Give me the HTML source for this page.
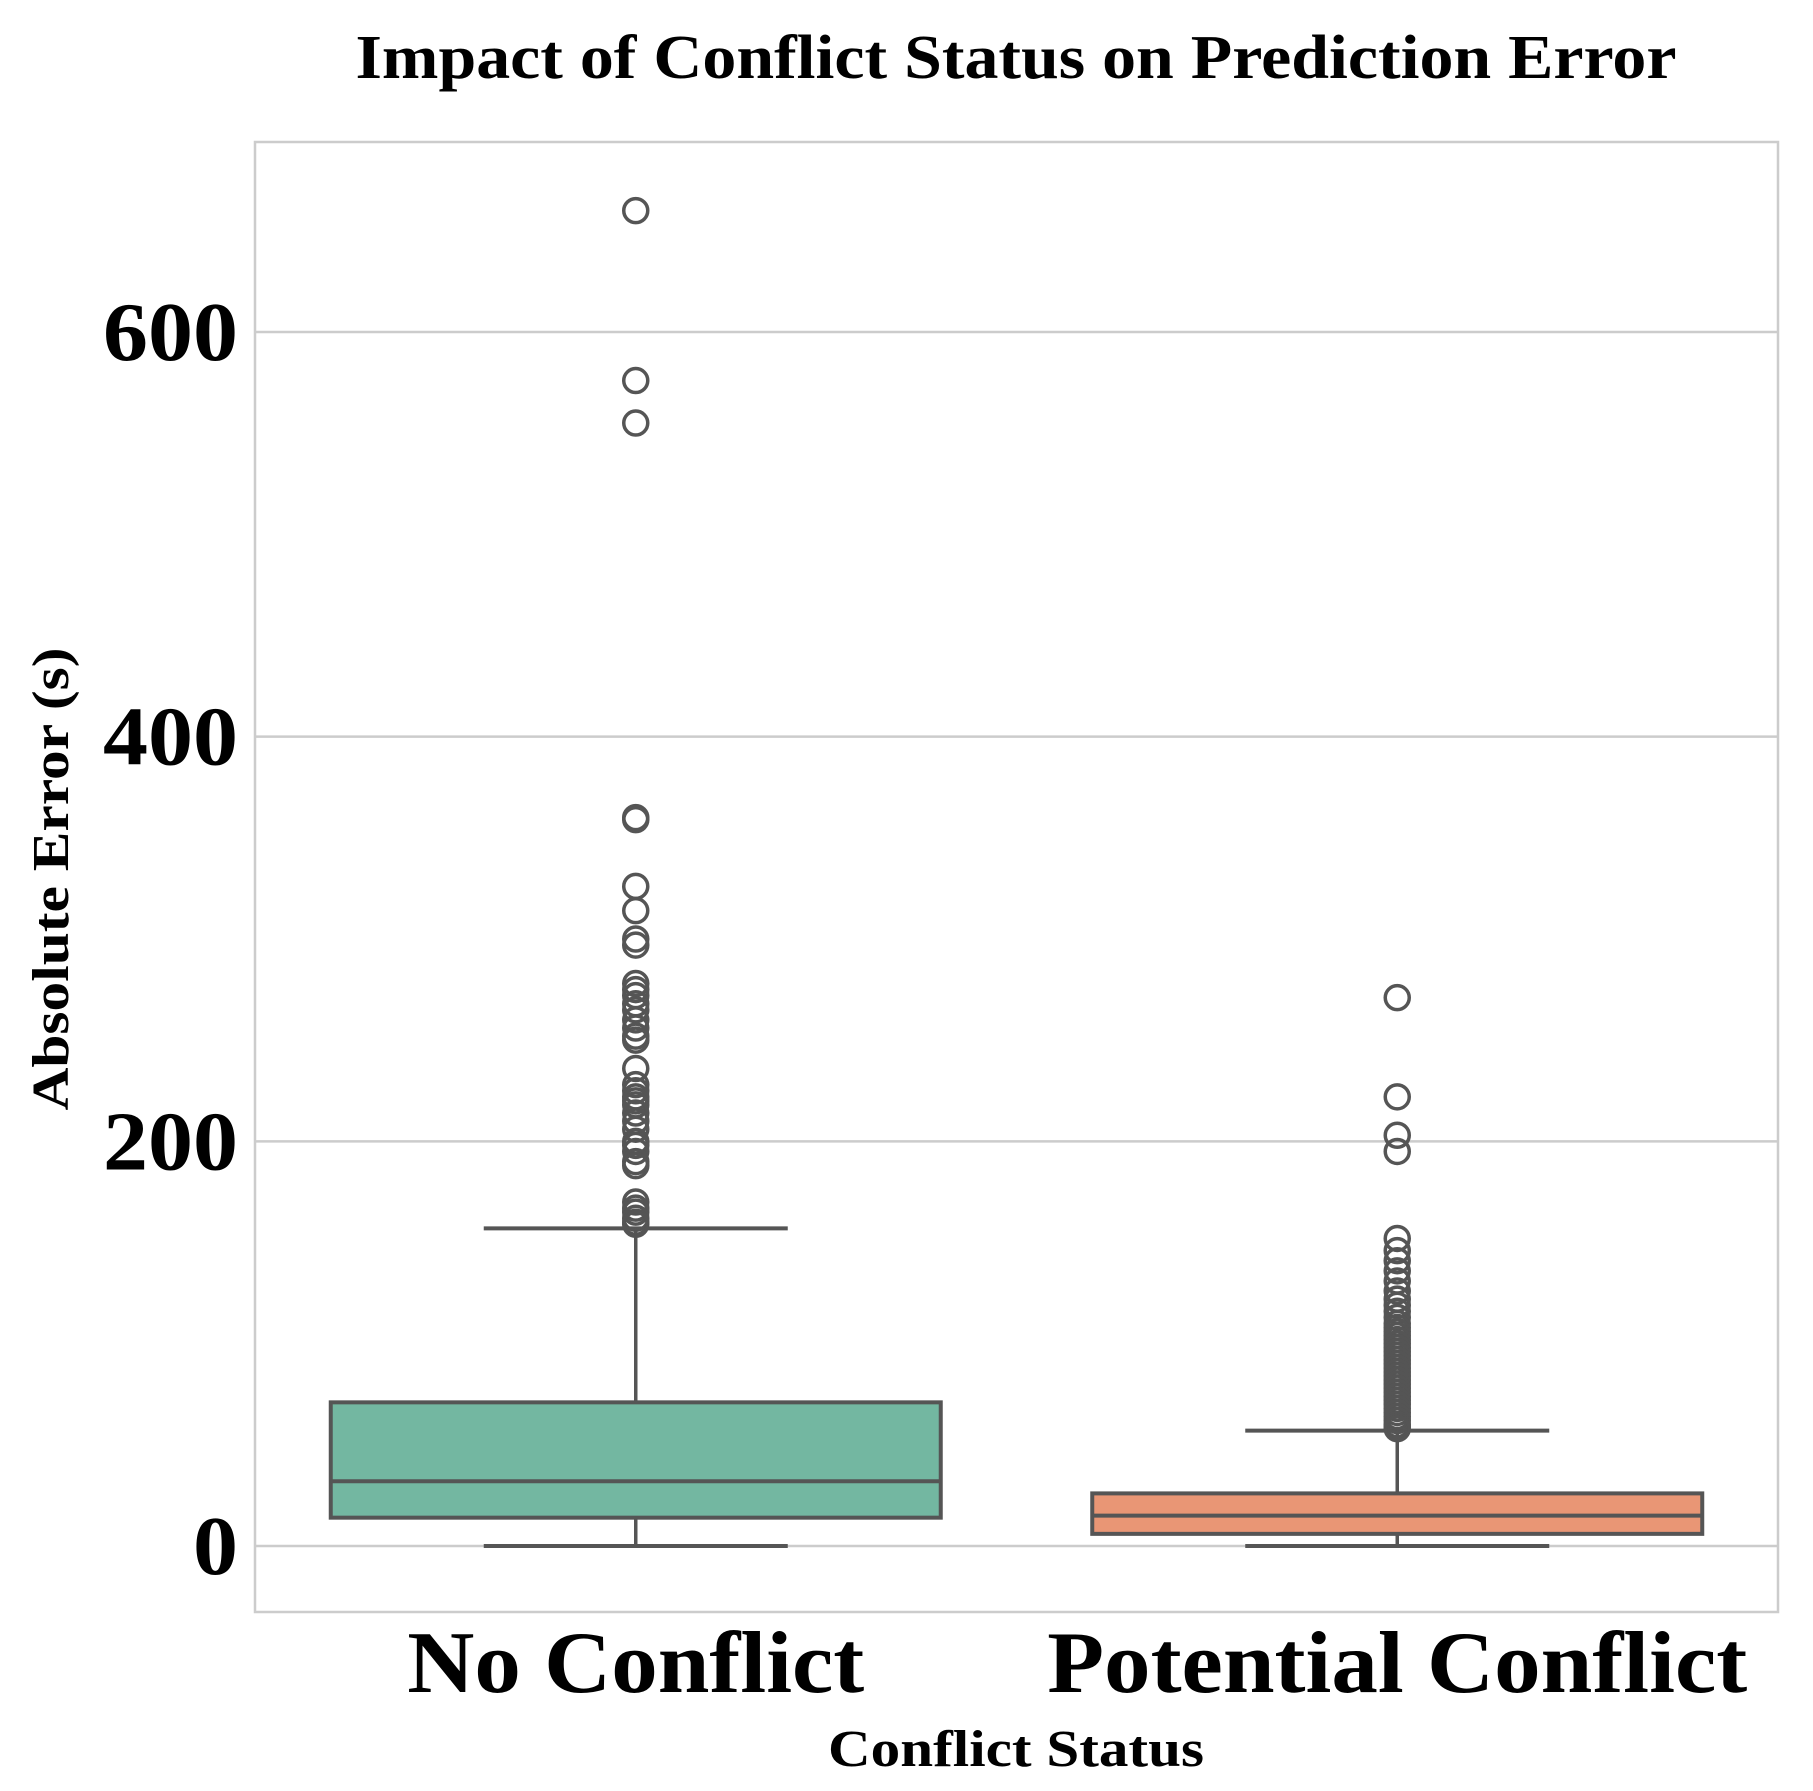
<!DOCTYPE html>
<html><head><meta charset="utf-8"><style>
html,body{margin:0;padding:0;background:#fff;}
svg{display:block;font-family:"Liberation Serif",serif;}
</style></head><body>
<svg id="chart" width="1813" height="1791" viewBox="0 0 1813 1791">
<text x="1016" y="78" text-anchor="middle" font-size="62" font-weight="bold" textLength="1321" lengthAdjust="spacingAndGlyphs">Impact of Conflict Status on Prediction Error</text>
<g id="grid"></g>
<rect x="255" y="142" width="1523" height="1470" fill="none" stroke="#cccccc" stroke-width="2.5"/>
<g id="boxes"></g>
<g id="yticks"></g>
<g id="xticks"></g>
<text x="1016" y="1766" text-anchor="middle" font-size="52" font-weight="bold" textLength="376" lengthAdjust="spacingAndGlyphs">Conflict Status</text>
<text transform="translate(68,879) rotate(-90)" text-anchor="middle" font-size="52" font-weight="bold" textLength="463" lengthAdjust="spacingAndGlyphs">Absolute Error (s)</text>
</svg>
<script>
const categories = ["No Conflict", "Potential Conflict"];
const q1 = [14, 6];
const medians = [32, 15];
const q3 = [71, 26];
const whiskLow = [0, 0];
const whiskHigh = [157, 57];
const outliersNo = [660,576,555,360,359,326,314,300,297,278,275,272,268,265,260,256,252,250,236,228,225,222,220,218,214,210,206,200,198,195,190,188,170,167,165,162,160,159];
const outliersPot = [271,222,203,195,152,146,141,136,131,126,122,119,116,113,110,108,106,104,102,100,98,96,94,92,90,88,86,84,82,80,78,76,74,72,70,68,66,64,62,60,59,58];
const yTicks = [0, 200, 400, 600];
const fills = ["#73b7a1", "#e99675"];

const NS = "http://www.w3.org/2000/svg";
const plotLeft = 255, plotRight = 1778;
function yScale(v){ return 1546 - v * (1546 - 332) / 600; }
function xScale(i){ return plotLeft + (plotRight - plotLeft) * (i + 0.5) / categories.length; }
function mk(tag, attrs, parent){
  const e = document.createElementNS(NS, tag);
  for (const k in attrs) e.setAttribute(k, attrs[k]);
  parent.appendChild(e); return e;
}
const labelWidths = [457, 700];
const grid = document.getElementById("grid");
const yt = document.getElementById("yticks");
yTicks.forEach(t => {
  const l = mk("line", {x1: plotLeft, x2: plotRight, y1: yScale(t), y2: yScale(t), stroke: "#cccccc", "stroke-width": 2.5}, grid);
  
  
  const tx = mk("text", {x: 238, y: yScale(t) + 28, "text-anchor": "end", "font-size": 84, "font-weight": "bold"}, yt);
  tx.textContent = t;
  const w = String(t).length * 45;
  tx.setAttribute("textLength", w);
  tx.setAttribute("lengthAdjust", "spacingAndGlyphs");
  
  
});
const boxes = document.getElementById("boxes");
const xt = document.getElementById("xticks");
const outs = [outliersNo, outliersPot];
const bw = 305, cw = 152, ec = "#555555";
categories.forEach((c, i) => {
  const cx = xScale(i);
  const g = mk("g", {}, boxes);
  
  
  mk("line", {x1: cx, x2: cx, y1: yScale(q3[i]), y2: yScale(whiskHigh[i]), stroke: ec, "stroke-width": 3.5}, g);
  mk("line", {x1: cx, x2: cx, y1: yScale(q1[i]), y2: yScale(whiskLow[i]), stroke: ec, "stroke-width": 3.5}, g);
  mk("line", {x1: cx - cw, x2: cx + cw, y1: yScale(whiskHigh[i]), y2: yScale(whiskHigh[i]), stroke: ec, "stroke-width": 4}, g);
  mk("line", {x1: cx - cw, x2: cx + cw, y1: yScale(whiskLow[i]), y2: yScale(whiskLow[i]), stroke: ec, "stroke-width": 4}, g);
  mk("rect", {x: cx - bw, y: yScale(q3[i]), width: 2 * bw, height: yScale(q1[i]) - yScale(q3[i]), fill: fills[i], stroke: ec, "stroke-width": 4}, g);
  mk("line", {x1: cx - bw, x2: cx + bw, y1: yScale(medians[i]), y2: yScale(medians[i]), stroke: ec, "stroke-width": 4}, g);
  outs[i].forEach(v => {
    const o = mk("circle", {cx: cx, cy: yScale(v), r: 12, fill: "none", stroke: ec, "stroke-width": 3.5}, g);
    
    
  });
  const tx = mk("text", {x: cx, y: 1692, "text-anchor": "middle", "font-size": 88, "font-weight": "bold"}, xt);
  tx.textContent = c;
  tx.setAttribute("textLength", labelWidths[i]);
  tx.setAttribute("lengthAdjust", "spacingAndGlyphs");
  
  
});
</script>
</body></html>
